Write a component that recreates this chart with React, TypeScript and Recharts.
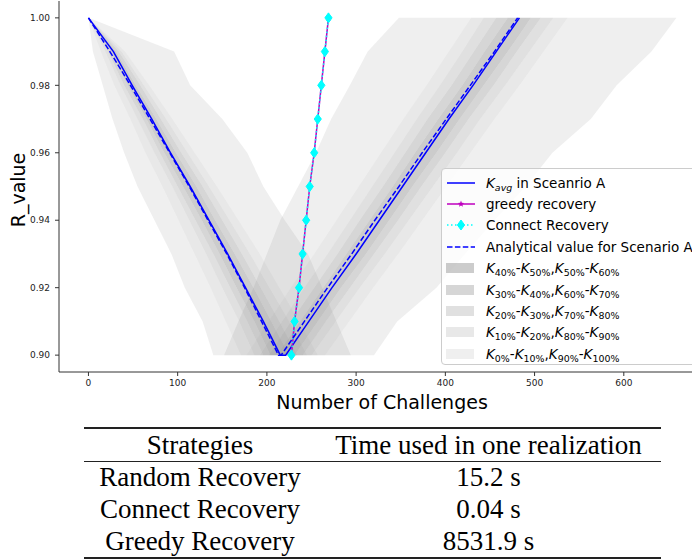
import React from "react";
import { ComposedChart, Area, Line, XAxis, YAxis } from "recharts";

// R levels, bottom to top
const R_LEVELS = [0.9, 0.91, 0.92, 0.93, 0.94, 0.95, 0.96, 0.97, 0.98, 0.99, 1.0];
const X_TICKS = [0, 100, 200, 300, 400, 500, 600];
const Y_TICKS = [0.9, 0.92, 0.94, 0.96, 0.98, 1.0];

// falling arm (R drops from 1.00 to 0.90), values listed from R = 0.90 upward
const KAVG_DOWN = [215, 196, 176, 156, 135, 114, 92, 71, 49, 28, 0];
const ANALYTIC_DOWN = [213, 194, 175, 155, 134, 113, 91, 69, 47, 24, 0];
const DOWN_K0 = [140, 128, 108, 93, 74, 55, 40, 27, 16, 5, 0];
const DOWN_K10 = [171, 154, 137, 119, 101, 83, 64, 47, 29, 14, 0];
const DOWN_K20 = [186, 169, 150, 132, 113, 94, 74, 55, 36, 19, 0];
const DOWN_K30 = [196, 178, 159, 140, 120, 100, 80, 61, 40, 22, 0];
const DOWN_K40 = [204, 186, 166, 147, 127, 106, 85, 65, 44, 25, 0];
const DOWN_K60 = [225, 205, 185, 164, 142, 121, 98, 76, 53, 31, 0];
const DOWN_K70 = [234, 214, 193, 172, 150, 128, 104, 81, 58, 34, 0];
const DOWN_K80 = [245, 225, 203, 181, 158, 135, 111, 87, 62, 37, 0];
const DOWN_K90 = [257, 236, 214, 192, 168, 144, 119, 94, 68, 41, 0];
const DOWN_K100 = [294, 278, 262, 246, 220, 196, 178, 150, 114, 96, 0];

// recovery arm (R climbs back from 0.90 to 1.00)
const KAVG_UP = [221, 247, 273, 300, 326, 352, 378, 404, 431, 457, 483];
const ANALYTIC_UP = [216, 242, 268, 295, 321, 348, 374, 401, 428, 455, 481];
const UP_K0 = [152, 168, 185, 200, 215, 235, 255, 272, 293, 313, 348];
const UP_K10 = [177, 202, 227, 253, 278, 303, 328, 353, 379, 404, 429];
const UP_K20 = [192, 217, 242, 268, 293, 318, 343, 368, 394, 419, 443];
const UP_K30 = [202, 227, 253, 279, 304, 330, 355, 380, 407, 432, 457];
const UP_K40 = [211, 237, 263, 289, 315, 341, 366, 392, 419, 444, 470];
const UP_K60 = [231, 257, 283, 311, 337, 363, 390, 416, 443, 470, 496];
const UP_K70 = [240, 266, 293, 320, 347, 373, 400, 426, 454, 480, 507];
const UP_K80 = [250, 277, 304, 332, 359, 386, 413, 439, 467, 494, 521];
const UP_K90 = [265, 292, 319, 347, 374, 401, 428, 455, 483, 510, 537];
const UP_K100 = [320, 346, 390, 422, 455, 490, 520, 563, 592, 631, 659];

const GREEDY = [227.5, 231, 236, 240, 244, 248, 253, 257, 261, 265, 269];
const CONNECT = [227.5, 231, 236, 240, 244, 248, 253, 257, 261, 265, 269];

// shade per band pair, innermost (K40-K60) first
const SHADE_OPACITY = [0.4, 0.32, 0.24, 0.18, 0.12];
const BAND_PAIR = [4, 3, 2, 1, 0, 1, 2, 3, 4];
const BAND_LABELS = [
  ["40%", "50%", "50%", "60%"],
  ["30%", "40%", "60%", "70%"],
  ["20%", "30%", "70%", "80%"],
  ["10%", "20%", "80%", "90%"],
  ["0%", "10%", "90%", "100%"],
];

const STRATEGIES = ["Random Recovery", "Connect Recovery", "Greedy Recovery"];
const TIMES = ["15.2 s", "0.04 s", "8531.9 s"];

const DOWN_CURVES = [DOWN_K0, DOWN_K10, DOWN_K20, DOWN_K30, DOWN_K40, DOWN_K60, DOWN_K70, DOWN_K80, DOWN_K90, DOWN_K100];
const UP_CURVES = [UP_K0, UP_K10, UP_K20, UP_K30, UP_K40, UP_K60, UP_K70, UP_K80, UP_K90, UP_K100];

// rows run down the falling arm, then back up the recovery arm
const rows: any[] = [];
for (let i = R_LEVELS.length - 1; i >= 0; i--) {
  const row: any = { r: R_LEVELS[i], kavg: KAVG_DOWN[i], analytic: ANALYTIC_DOWN[i] };
  BAND_PAIR.forEach((_, j) => (row[`dn${j}`] = [DOWN_CURVES[j][i], DOWN_CURVES[j + 1][i]]));
  rows.push(row);
}
for (let i = 0; i < R_LEVELS.length; i++) {
  const row: any = {
    r: R_LEVELS[i],
    kavg: KAVG_UP[i],
    analytic: ANALYTIC_UP[i],
    greedy: GREEDY[i],
    connect: CONNECT[i],
  };
  BAND_PAIR.forEach((_, j) => (row[`up${j}`] = [UP_CURVES[j][i], UP_CURVES[j + 1][i]]));
  rows.push(row);
}

const BLUE = "#0000ff";
const MAGENTA = "#bf00bf";
const CYAN = "#00ffff";
const BAND_FILL = "#7f7f7f";

const tickStyle = { fontSize: 9, fill: "#222", fontFamily: "DejaVu Sans" };

const Diamond = (props: any) => {
  const { cx, cy, index } = props;
  if (cx == null || cy == null) return <g key={`d${index}`} />;
  return (
    <polygon
      key={`d${index}`}
      points={`${cx},${cy - 5} ${cx + 3.6},${cy} ${cx},${cy + 5} ${cx - 3.6},${cy}`}
      fill={CYAN}
      stroke={CYAN}
      strokeWidth={1}
    />
  );
};

const Star = (props: any) => {
  const { cx, cy, index } = props;
  if (cx == null || cy == null) return <g key={`s${index}`} />;
  const pts: string[] = [];
  for (let k = 0; k < 10; k++) {
    const rad = k % 2 === 0 ? 3.5 : 1.4;
    const a = (Math.PI / 5) * k - Math.PI / 2;
    pts.push(`${cx + rad * Math.cos(a)},${cy + rad * Math.sin(a)}`);
  }
  return <polygon key={`s${index}`} points={pts.join(" ")} fill={MAGENTA} />;
};

const K = ({ sub, italic }: { sub: string; italic?: boolean }) => (
  <>
    <i>K</i>
    <sub
      style={{
        fontSize: "0.7em",
        verticalAlign: "-0.35em",
        lineHeight: 0,
        fontStyle: italic ? "italic" : "normal",
      }}
    >
      {sub}
    </sub>
  </>
);

const LegendLine = ({ kind }: { kind: string }) => (
  <svg width={30} height={12} style={{ display: "block" }}>
    {kind === "kavg" && <line x1={1} y1={6} x2={29} y2={6} stroke={BLUE} strokeWidth={1.5} />}
    {kind === "greedy" && (
      <>
        <line x1={1} y1={6} x2={29} y2={6} stroke={MAGENTA} strokeWidth={1.5} />
        <Star cx={15} cy={6} index={0} />
      </>
    )}
    {kind === "connect" && (
      <>
        <line x1={1} y1={6} x2={29} y2={6} stroke={CYAN} strokeWidth={1.5} strokeDasharray="1.5 2.5" />
        <Diamond cx={15} cy={6} index={0} />
      </>
    )}
    {kind === "analytic" && (
      <line x1={1} y1={6} x2={29} y2={6} stroke={BLUE} strokeWidth={1.5} strokeDasharray="5.5 2.4" />
    )}
  </svg>
);

const ChartLegend = () => {
  const rowStyle: React.CSSProperties = { display: "flex", alignItems: "center", height: 21.4 };
  const handle: React.CSSProperties = { width: 30, marginLeft: 4, marginRight: 10 };
  return (
    <div
      style={{
        position: "absolute",
        left: 441,
        top: 168,
        width: 280,
        height: 197,
        border: "1px solid #cccccc",
        borderRadius: 4,
        background: "rgba(255,255,255,0.8)",
        fontFamily: "DejaVu Sans",
        fontSize: 13.5,
        color: "#000",
        paddingTop: 3,
        boxSizing: "border-box",
        whiteSpace: "nowrap",
      }}
    >
      <div style={rowStyle}>
        <div style={handle}><LegendLine kind="kavg" /></div>
        <span><K sub="avg" italic /> in Sceanrio A</span>
      </div>
      <div style={rowStyle}>
        <div style={handle}><LegendLine kind="greedy" /></div>
        <span>greedy recovery</span>
      </div>
      <div style={rowStyle}>
        <div style={handle}><LegendLine kind="connect" /></div>
        <span>Connect Recovery</span>
      </div>
      <div style={rowStyle}>
        <div style={handle}><LegendLine kind="analytic" /></div>
        <span>Analytical value for Scenario A</span>
      </div>
      {BAND_LABELS.map((lab, p) => (
        <div key={p} style={rowStyle}>
          <div style={handle}>
            <div style={{ width: 28, height: 10, background: BAND_FILL, opacity: SHADE_OPACITY[p] }} />
          </div>
          <span>
            <K sub={lab[0]} />-<K sub={lab[1]} />,<K sub={lab[2]} />-<K sub={lab[3]} />
          </span>
        </div>
      ))}
    </div>
  );
};

const TimeTable = () => {
  const cell = (w: number): React.CSSProperties => ({ width: w, textAlign: "center" });
  return (
    <div
      style={{
        position: "absolute",
        left: 84,
        top: 427,
        width: 577,
        fontFamily: "Liberation Serif",
        fontSize: 27,
        color: "#000",
        borderTop: "2px solid #222",
        borderBottom: "2px solid #222",
      }}
    >
      <div style={{ display: "flex", height: 32, alignItems: "center", borderBottom: "1px solid #222" }}>
        <div style={cell(232)}>Strategies</div>
        <div style={cell(345)}>Time used in one realization</div>
      </div>
      {STRATEGIES.map((s, i) => (
        <div key={s} style={{ display: "flex", height: 31.7, alignItems: "center" }}>
          <div style={cell(232)}>{s}</div>
          <div style={cell(345)}>{TIMES[i]}</div>
        </div>
      ))}
    </div>
  );
};

export default function App() {
  return (
    <div
      style={{
        position: "absolute",
        left: 0,
        top: 0,
        width: 692,
        height: 559,
        overflow: "hidden",
        background: "#fff",
      }}
    >
      <div style={{ position: "absolute", left: 0, top: 0 }}>
        <ComposedChart
          width={705}
          height={402}
          data={rows}
          layout="vertical"
          margin={{ top: 1, right: 0, bottom: 0, left: 0 }}
        >
          <XAxis
            type="number"
            domain={[-33, 691]}
            ticks={X_TICKS}
            allowDataOverflow
            height={30}
            tick={tickStyle}
            tickSize={4}
            tickMargin={4}
            stroke="#333"
          />
          <XAxis
            xAxisId="top"
            orientation="top"
            type="number"
            domain={[-33, 691]}
            allowDataOverflow
            height={0}
            tick={false}
            tickLine={false}
            stroke="#333"
          />
          <YAxis
            type="number"
            dataKey="r"
            domain={[0.895, 1.005]}
            ticks={Y_TICKS}
            allowDataOverflow
            reversed
            width={59}
            tickFormatter={(v: number) => v.toFixed(2)}
            tick={tickStyle}
            tickSize={4}
            tickMargin={5}
            stroke="#333"
          />
          {BAND_PAIR.map((p, j) => (
            <Area
              key={`dn${j}`}
              dataKey={`dn${j}`}
              type="linear"
              stroke="none"
              fill={BAND_FILL}
              fillOpacity={SHADE_OPACITY[p]}
              dot={false}
              activeDot={false}
              isAnimationActive={false}
            />
          ))}
          {BAND_PAIR.map((p, j) => (
            <Area
              key={`up${j}`}
              dataKey={`up${j}`}
              type="linear"
              stroke="none"
              fill={BAND_FILL}
              fillOpacity={SHADE_OPACITY[p]}
              dot={false}
              activeDot={false}
              isAnimationActive={false}
            />
          ))}
          <Line dataKey="kavg" type="linear" stroke={BLUE} strokeWidth={1.5} dot={false} activeDot={false} isAnimationActive={false} />
          <Line dataKey="greedy" type="linear" stroke={MAGENTA} strokeWidth={1.5} dot={Star} activeDot={false} isAnimationActive={false} />
          <Line
            dataKey="connect"
            type="linear"
            stroke={CYAN}
            strokeWidth={1.5}
            strokeDasharray="1.5 2.5"
            dot={Diamond}
            activeDot={false}
            isAnimationActive={false}
          />
          <Line
            dataKey="analytic"
            type="linear"
            stroke={BLUE}
            strokeWidth={1.5}
            strokeDasharray="5.5 2.4"
            dot={false}
            activeDot={false}
            isAnimationActive={false}
          />
        </ComposedChart>
      </div>
      <ChartLegend />
      <div
        style={{
          position: "absolute",
          left: 0,
          top: 390,
          width: 764,
          textAlign: "center",
          fontFamily: "DejaVu Sans",
          fontSize: 19,
          lineHeight: "24px",
          color: "#000",
        }}
      >
        Number of Challenges
      </div>
      <div
        style={{
          position: "absolute",
          left: 18,
          top: 190,
          transform: "translate(-50%, -50%) rotate(-90deg)",
          fontFamily: "DejaVu Sans",
          fontSize: 19,
          lineHeight: "24px",
          color: "#000",
          whiteSpace: "nowrap",
        }}
      >
        R_value
      </div>
      <TimeTable />
    </div>
  );
}
